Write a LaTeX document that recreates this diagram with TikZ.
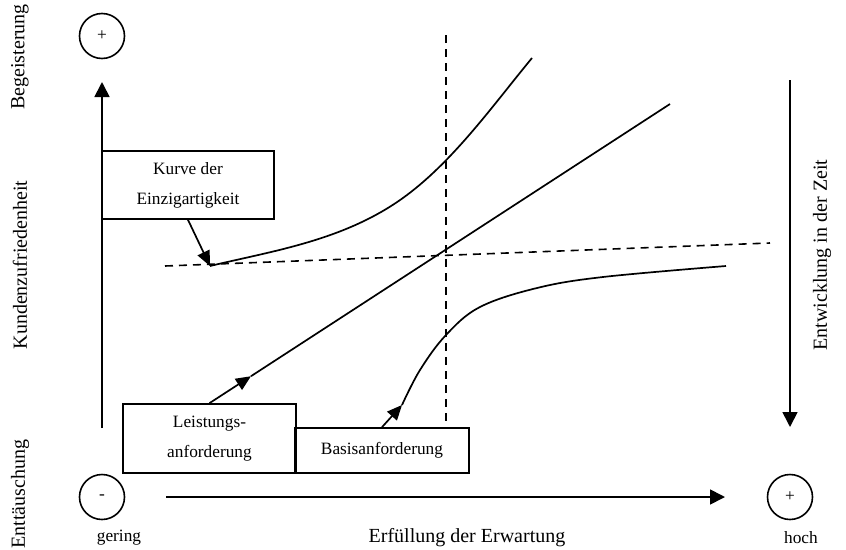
\documentclass[tikz,border=0pt]{standalone}
\usepackage{fontspec}
\setmainfont{Liberation Serif}
\usetikzlibrary{arrows.meta,calc}
\begin{document}
\begin{tikzpicture}[x=1pt,y=-1pt,
  every node/.style={font=\fontsize{17.3}{30}\selectfont},
  biglabel/.style={font=\fontsize{20}{24}\selectfont},
  line/.style={line width=1.7pt},
  axis/.style={line width=1.7pt,-{Triangle[length=15pt,width=15pt]}},
  tip/.style={line width=1.7pt,-{Triangle[length=15pt,width=13pt]}},
  guide/.style={line width=1.6pt,dash pattern=on 8pt off 6pt},
  textbox/.style={draw,line width=1.7pt,inner sep=0pt,align=center},
  pole/.style={draw,circle,line width=1.6pt,minimum size=45pt,inner sep=0pt},
  sidelabel/.style={biglabel,rotate=90}]
\useasboundingbox (0,0) rectangle (846,549);

% poles of the two axes
\node[pole] (cTop)   at (102,36)  {+};
\node[pole] (cMinus) at (102,497) {-};
\node[pole] (cPlus)  at (790,497) {+};

% axis labels
\node[sidelabel] (lBeg)  at (20,57)  {Begeisterung};
\node[sidelabel] (lKun)  at (20,265) {Kundenzufriedenheit};
\node[sidelabel] (lEnt)  at (20,494) {Enttäuschung};
\node[sidelabel] (lZeit) at (822,255) {Entwicklung in der Zeit};
\node (lGer)  at (119,538) {gering};
\node[biglabel] (lErf)  at (467,538) {Erfüllung der Erwartung};
\node (lHoch) at (801,538) {hoch};

% axes
\coordinate (yA) at (102,428);
\coordinate (yB) at (102,82);
\coordinate (xA) at (166,497);
\coordinate (xB) at (725,497);
\coordinate (tA) at (790,80);
\coordinate (tB) at (790,427);
\draw[axis] (yA) -- (yB);
\draw[axis] (xA) -- (xB);
\draw[axis] (tA) -- (tB);

% reference lines
\coordinate (hA) at (165,266);
\coordinate (hB) at (770,243);
\coordinate (vA) at (446,35);
\coordinate (vB) at (446,428);
\draw[guide] (hA) -- (hB);
\draw[guide] (vA) -- (vB);

% label boxes
\node[textbox,minimum width=172pt,minimum height=68pt] (K) at (188,185)
  {Kurve der\\Einzigartigkeit};
\node[textbox,minimum width=173pt,minimum height=69pt] (L) at (209.5,438.5)
  {Leistungs-\\anforderung};
\node[textbox,minimum width=174pt,minimum height=45pt] (B) at (382,450.5)
  {Basisanforderung};

% curve of uniqueness
\coordinate (E0) at (210,266);
\coordinate (E1) at (407,195);
\coordinate (E2) at (532,58);
\draw[tip] (K.south) -- (E0);
\draw[line] (E0) .. controls (275,250.4) and (347,240) .. (E1)
                 .. controls (455,159) and (494,104) .. (E2);

% performance requirement
\coordinate (Lend) at (670,104);
\coordinate (Ltip) at ($(L.north)!0.09!(Lend)$);
\draw[tip] (L.north) -- (Ltip);
\draw[line] (Ltip) -- (Lend);

% basic requirement
\coordinate (Btip) at (402,405);
\draw[tip] (B.north) -- (Btip);
\draw[line] plot[smooth,tension=0.6] coordinates
  {(Btip) (420,370) (446,335) (480,307) (537,288) (603,277) (726,266)};
\end{tikzpicture}
\end{document}
